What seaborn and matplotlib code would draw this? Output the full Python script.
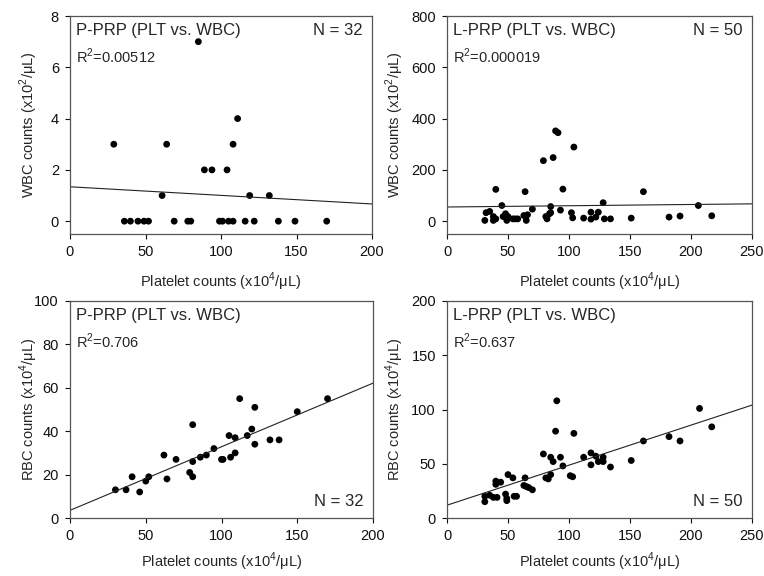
import numpy as np
import pandas as pd
import matplotlib
matplotlib.use('Agg')
import matplotlib.pyplot as plt
import seaborn as sns

# P-PRP, WBC vs platelet
pprp_wbc_plt = [29, 64, 85, 61, 89, 94, 104, 108, 111, 119, 132,
                36, 40, 45, 49, 52, 69, 78, 80, 99, 101, 105, 108, 116, 122, 138, 149, 170]
pprp_wbc_val = [3, 3, 7, 1, 2, 2, 2, 3, 4, 1, 1,
                0, 0, 0, 0, 0, 0, 0, 0, 0, 0, 0, 0, 0, 0, 0, 0, 0]

# L-PRP, WBC vs platelet
lprp_wbc_plt = [40, 64, 79, 87, 89, 91, 104, 95, 161, 45, 85, 128, 206, 70, 93,
                32, 35, 31, 38, 40, 38, 48, 49, 50, 54, 56, 58, 63, 65, 66, 81, 82,
                84, 85, 102, 103, 112, 118, 118, 122, 124, 129, 134, 151, 182, 191, 217, 46]
lprp_wbc_val = [124, 115, 236, 248, 352, 345, 289, 125, 115, 61, 57, 72, 61, 47, 43,
                33, 38, 3, 3, 9, 18, 29, 3, 18, 9, 9, 9, 22, 3, 25, 18, 9,
                29, 33, 33, 13, 12, 35, 8, 16, 35, 9, 9, 12, 16, 20, 21, 18]

# P-PRP, RBC vs platelet
pprp_rbc_plt = [30, 37, 41, 46, 50, 52, 62, 64, 70, 79, 81, 81, 81, 86, 90, 95,
                100, 101, 105, 106, 109, 109, 112, 117, 120, 122, 122, 132, 138, 150, 170]
pprp_rbc_val = [13, 13, 19, 12, 17, 19, 29, 18, 27, 21, 43, 19, 26, 28, 29, 32,
                27, 27, 38, 28, 37, 30, 55, 38, 41, 34, 51, 36, 36, 49, 55]

# L-PRP, RBC vs platelet
lprp_rbc_plt = [31, 31, 35, 38, 40, 40, 41, 44, 48, 49, 49, 50, 54, 55, 57, 64,
                63, 65, 67, 70, 79, 81, 83, 85, 85, 87, 89, 90, 93, 95, 101, 103,
                104, 112, 118, 118, 122, 124, 128, 128, 134, 151, 161, 182, 191, 207, 217]
lprp_rbc_val = [15, 20, 21, 19, 34, 31, 19, 33, 22, 18, 16, 40, 37, 20, 20, 37,
                30, 29, 28, 26, 59, 37, 36, 40, 56, 52, 80, 108, 56, 48, 39, 38,
                78, 56, 60, 49, 57, 52, 56, 52, 47, 53, 71, 75, 71, 101, 84]

panels = [
    dict(x=pprp_wbc_plt, y=pprp_wbc_val, title='P-PRP (PLT vs. WBC)', r2='R$^2$=0.00512',
         n='N = 32', xlim=(0, 200), xticks=[0, 50, 100, 150, 200],
         ylim=(-0.5, 8), yticks=[0, 2, 4, 6, 8], ylabel='WBC counts (x10$^2$/μL)', ntop=True),
    dict(x=lprp_wbc_plt, y=lprp_wbc_val, title='L-PRP (PLT vs. WBC)', r2='R$^2$=0.000019',
         n='N = 50', xlim=(0, 250), xticks=[0, 50, 100, 150, 200, 250],
         ylim=(-50, 800), yticks=[0, 200, 400, 600, 800], ylabel='WBC counts (x10$^2$/μL)', ntop=True),
    dict(x=pprp_rbc_plt, y=pprp_rbc_val, title='P-PRP (PLT vs. WBC)', r2='R$^2$=0.706',
         n='N = 32', xlim=(0, 200), xticks=[0, 50, 100, 150, 200],
         ylim=(0, 100), yticks=[0, 20, 40, 60, 80, 100], ylabel='RBC counts (x10$^4$/μL)', ntop=False),
    dict(x=lprp_rbc_plt, y=lprp_rbc_val, title='L-PRP (PLT vs. WBC)', r2='R$^2$=0.637',
         n='N = 50', xlim=(0, 250), xticks=[0, 50, 100, 150, 200, 250],
         ylim=(0, 200), yticks=[0, 50, 100, 150, 200], ylabel='RBC counts (x10$^4$/μL)', ntop=False),
]

sns.set_style('ticks')
plt.rcParams['font.family'] = ['Liberation Sans', 'DejaVu Sans']
plt.rcParams['mathtext.fontset'] = 'custom'
plt.rcParams['mathtext.rm'] = 'Liberation Sans'

fig = plt.figure(figsize=(7.64, 5.76), dpi=100)
rects = [
    [70 / 764, 1 - 234 / 576, 302 / 764, 218 / 576],
    [447 / 764, 1 - 234 / 576, 305 / 764, 218 / 576],
    [70 / 764, 1 - 518 / 576, 303 / 764, 217 / 576],
    [447 / 764, 1 - 518 / 576, 305 / 764, 217 / 576],
]
ylabel_x = [-0.136, -0.17, -0.136, -0.17]
xlabel_y = [-0.22, -0.22, -0.2, -0.2]

for rect, p, lx, ly in zip(rects, panels, ylabel_x, xlabel_y):
    ax = fig.add_axes(rect)
    df = pd.DataFrame({'plt': p['x'], 'val': p['y']})
    ax.set_xlim(*p['xlim'])
    ax.set_ylim(*p['ylim'])
    sns.regplot(data=df, x='plt', y='val', ax=ax, ci=None, truncate=False,
                scatter_kws=dict(color='black', s=24, edgecolor='none', alpha=1),
                line_kws=dict(color='#222222', lw=0.8))
    ax.set_xlim(*p['xlim'])
    ax.set_ylim(*p['ylim'])
    ax.set_xticks(p['xticks'])
    ax.set_yticks(p['yticks'])
    ax.tick_params(direction='out', length=3.5, width=0.8, pad=4.5,
                   labelsize=10.5, colors='#111111')
    for s in ax.spines.values():
        s.set_color('#555555')
        s.set_linewidth(0.9)
    ax.set_xlabel('Platelet counts (x10$^4$/μL)', fontsize=10.5)
    ax.set_ylabel(p['ylabel'], fontsize=10.5)
    ax.xaxis.set_label_coords(0.5, ly)
    ax.yaxis.set_label_coords(lx, 0.5)
    ax.xaxis.label.set_va('center')
    ax.yaxis.label.set_va('center')
    ax.text(0.02, 0.97, p['title'], transform=ax.transAxes, fontsize=12, va='top', ha='left')
    ax.text(0.02, 0.86, p['r2'], transform=ax.transAxes, fontsize=10.5, va='top', ha='left')
    if p['ntop']:
        ax.text(0.97, 0.97, p['n'], transform=ax.transAxes, fontsize=12, va='top', ha='right')
    else:
        ax.text(0.97, 0.04, p['n'], transform=ax.transAxes, fontsize=12, va='bottom', ha='right')

fig.savefig('out.png', dpi=100)
